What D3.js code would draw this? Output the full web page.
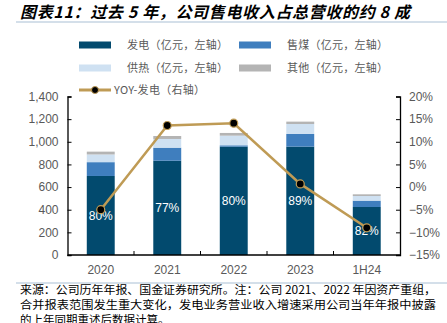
<!DOCTYPE html>
<html>
<head>
<meta charset="utf-8">
<script src="https://cdn.jsdelivr.net/npm/d3@7"></script>
<style>
  body { margin: 0; background: #fff; }
  svg { display: block; }
</style>
</head>
<body>
<div id="chart"></div>
<script>
// data
var years = ['2020', '2021', '2022', '2023', '1H24'];
var power = [698, 833, 957, 957, 424];     // 发电
var coal = [122, 115, 12, 112, 56];        // 售煤
var heat = [68, 77, 85, 88, 41];           // 供热
var other = [25, 26, 24, 21, 15];          // 其他
var yoy = [-5.0, 13.6, 14.1, 0.7, -9.0];   // YOY-发电 (%)
var shareLabels = ['80%', '77%', '80%', '89%', '82%'];
var leftTicks = [0, 200, 400, 600, 800, 1000, 1200, 1400];
var rightTicks = [-15, -10, -5, 0, 5, 10, 15, 20];
var seriesNames = ['发电（亿元，左轴）', '售煤（亿元，左轴）', '供热（亿元，左轴）', '其他（亿元，左轴）'];
var lineName = 'YOY-发电（右轴）';
var title = '图表11：过去 5 年，公司售电收入占总营收的约 8 成';
var notes = [
	'来源：公司历年年报、国金证券研究所。注：公司 2021、2022 年因资产重组，',
	'合并报表范围发生重大变化，发电业务营业收入增速采用公司当年年报中披露',
	'的上年同期重述后数据计算。'
];

var colors = ['#024a6e', '#3f7ebe', '#cfe1f2', '#b4b4b4'];
var lineColor = '#bf9b55';
var cjk = '"Noto Sans CJK SC", sans-serif';
var latin = '"Liberation Sans", Arial, sans-serif';

var W = 447, H = 323;
var margin = { left: 67.5, right: 47, top: 96.5, bottom: 68 };
var width = W - margin.left - margin.right,
	height = H - margin.top - margin.bottom;

var svg = d3.select('#chart').append('svg')
	.attr('width', W)
	.attr('height', H);

//title
svg.append('text')
	.attr('x', 20)
	.attr('y', 18)
	.style('font-family', cjk)
	.style('font-size', '16px')
	.style('font-weight', 'bold')
	.style('font-style', 'italic')
	.attr('textLength', 390)
	.attr('lengthAdjust', 'spacing')
	.attr('fill', '#000')
	.text(title);

svg.append('line')
	.attr('x1', 16).attr('x2', W)
	.attr('y1', 22).attr('y2', 22)
	.attr('stroke', '#a9bfd4')
	.attr('stroke-width', 1);

//stack data
var table = years.map(function (y, i) {
	return { year: y, s0: power[i], s1: coal[i], s2: heat[i], s3: other[i] };
});
var stack = d3.stack().keys(['s0', 's1', 's2', 's3'])(table);

var x = d3.scaleBand()
	.domain(years)
	.range([0, width])
	.paddingInner(0.58)
	.paddingOuter(0.29);

var y = d3.scaleLinear()
	.domain([0, 1400])
	.range([height, 0]);

var y2 = d3.scaleLinear()
	.domain([-15, 20])
	.range([height, 0]);

var g = svg.append('g')
	.attr('transform', 'translate(' + margin.left + ',' + margin.top + ')');

//bars
g.selectAll('.layer')
	.data(stack)
	.enter()
	.append('g')
	.attr('fill', function (d, i) { return colors[i]; })
	.selectAll('rect')
	.data(function (d) { return d; })
	.enter()
	.append('rect')
	.attr('x', function (d) { return x(d.data.year); })
	.attr('width', x.bandwidth())
	.attr('y', function (d) { return y(d[1]); })
	.attr('height', function (d) { return y(d[0]) - y(d[1]); });

//share labels in the middle of the power bar
g.selectAll('.share')
	.data(table)
	.enter()
	.append('text')
	.attr('x', function (d) { return x(d.year) + x.bandwidth() / 2; })
	.attr('y', function (d) { return y(d.s0 / 2); })
	.attr('dy', '0.35em')
	.attr('text-anchor', 'middle')
	.style('font-family', latin)
	.style('font-size', '12px')
	.attr('fill', '#fff')
	.text(function (d, i) { return shareLabels[i]; });

//axes
var axisColor = '#000';
var yAxis = d3.axisLeft(y).tickValues(leftTicks).tickSize(-4).tickPadding(9).tickFormat(d3.format(','));
var yAxis2 = d3.axisRight(y2).tickValues(rightTicks).tickSize(-4).tickPadding(9)
	.tickFormat(function (d) { return (d < 0 ? '\u2212' + (-d) : d) + '%'; });
var xAxis = d3.axisBottom(x).tickSize(0).tickPadding(10);

function styleAxis(sel) {
	sel.select('.domain').attr('stroke', axisColor).attr('stroke-width', 1.3);
	sel.selectAll('.tick line').attr('stroke', axisColor);
	sel.selectAll('.tick text')
		.attr('fill', '#595959')
		.style('font-family', latin)
		.style('font-size', '12px');
}

g.append('g').call(yAxis).call(styleAxis);
g.append('g').attr('transform', 'translate(' + width + ',0)').call(yAxis2).call(styleAxis);
var xg = g.append('g').attr('transform', 'translate(0,' + height + ')').call(xAxis).call(styleAxis);
xg.select('.domain').attr('d', 'M0,0H' + width);

//category separator ticks pointing up
var seps = years.slice(1).map(function (yr) {
	return x(yr) - x.step() * x.paddingInner() / 2;
});
g.selectAll('.sep')
	.data(seps)
	.enter()
	.append('line')
	.attr('x1', function (d) { return d; })
	.attr('x2', function (d) { return d; })
	.attr('y1', height)
	.attr('y2', height - 4)
	.attr('stroke', axisColor);

//yoy line
var line = d3.line()
	.x(function (d, i) { return x(years[i]) + x.bandwidth() / 2; })
	.y(function (d) { return y2(d); });

g.append('path')
	.datum(yoy)
	.attr('d', line)
	.attr('fill', 'none')
	.attr('stroke', lineColor)
	.attr('stroke-width', 2.5);

g.selectAll('.dot')
	.data(yoy)
	.enter()
	.append('circle')
	.attr('cx', function (d, i) { return x(years[i]) + x.bandwidth() / 2; })
	.attr('cy', function (d) { return y2(d); })
	.attr('r', 4)
	.attr('fill', '#000')
	.attr('stroke', lineColor)
	.attr('stroke-width', 1.2);

//legend
var legendPos = [[79, 45], [239, 45], [79, 68], [239, 68]];
var leg = svg.append('g');
seriesNames.forEach(function (name, i) {
	var p = legendPos[i];
	leg.append('rect')
		.attr('x', p[0]).attr('y', p[1] - 3.5)
		.attr('width', 32).attr('height', 7)
		.attr('fill', colors[i]);
	leg.append('text')
		.attr('x', p[0] + 48).attr('y', p[1])
		.attr('dy', '0.35em')
		.style('font-family', cjk)
		.style('font-size', '11px')
		.attr('textLength', 101)
		.attr('lengthAdjust', 'spacing')
		.attr('fill', '#595959')
		.text(name);
});
leg.append('line')
	.attr('x1', 79).attr('x2', 111)
	.attr('y1', 90).attr('y2', 90)
	.attr('stroke', lineColor).attr('stroke-width', 3);
leg.append('circle')
	.attr('cx', 95).attr('cy', 90).attr('r', 3.5)
	.attr('fill', '#000').attr('stroke', lineColor).attr('stroke-width', 1);
leg.append('text')
	.attr('x', 114).attr('y', 90)
	.attr('dy', '0.35em')
	.style('font-family', cjk)
	.style('font-size', '11px')
	.attr('textLength', 91)
	.attr('lengthAdjust', 'spacing')
	.attr('fill', '#595959')
	.text(lineName);

//footer
svg.append('line')
	.attr('x1', 16).attr('x2', W)
	.attr('y1', 283).attr('y2', 283)
	.attr('stroke', '#a9bfd4')
	.attr('stroke-width', 1);

var noteLen = [416, 416, null];
svg.selectAll('.note')
	.data(notes)
	.enter()
	.append('text')
	.attr('x', 20)
	.attr('y', function (d, i) { return 290 + i * 15; })
	.attr('dy', '0.35em')
	.style('font-family', cjk)
	.style('font-size', '11.5px')
	.attr('textLength', function (d, i) { return noteLen[i]; })
	.attr('lengthAdjust', 'spacingAndGlyphs')
	.attr('fill', '#000')
	.text(function (d) { return d; });
</script>
</body>
</html>
